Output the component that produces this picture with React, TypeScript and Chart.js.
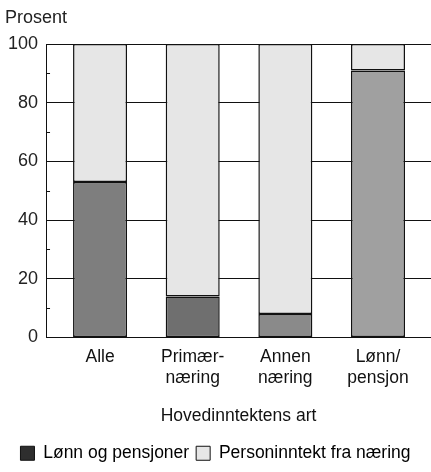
import React, { useEffect, useRef } from "react";
import { Chart, registerables } from "chart.js";

Chart.register(...registerables);

const categories: string[][] = [["Alle"], ["Primær-", "næring"], ["Annen", "næring"], ["Lønn/", "pensjon"]];
const lonnOgPensjoner: number[] = [53, 14, 8, 91];
const personinntekt: number[] = [47, 86, 92, 9];
const seriesNames: string[] = ["Lønn og pensjoner", "Personinntekt fra næring"];
const yTicks: number[] = [0, 20, 40, 60, 80, 100];
const minorTicks: number[] = [10, 30, 50, 70, 90];
const yUnit = "Prosent";

const FONT = "'Liberation Sans', Arial, sans-serif";

export default function App() {
  const ref = useRef<HTMLCanvasElement | null>(null);

  useEffect(() => {
    document.body.style.margin = "0";
    const canvas = ref.current;
    if (!canvas) return;

    const extrasPlugin = {
      id: "extras",
      afterDraw(chart: any) {
        const y = chart.scales.y;
        const ctx = chart.ctx;
        ctx.save();
        ctx.strokeStyle = "#111";
        ctx.lineWidth = 1;
        for (const v of minorTicks) {
          const py = Math.round(y.getPixelForValue(v)) + 0.5;
          ctx.beginPath();
          ctx.moveTo(chart.chartArea.left, py);
          ctx.lineTo(chart.chartArea.left + 4, py);
          ctx.stroke();
        }
        ctx.fillStyle = "#222";
        ctx.font = `18px ${FONT}`;
        ctx.textAlign = "left";
        ctx.textBaseline = "middle";
        ctx.fillText(yUnit, 5, 18);
        ctx.restore();
      },
    };

    const chart = new Chart(canvas, {
      type: "bar",
      data: {
        datasets: [
          {
            label: seriesNames[0],
            data: lonnOgPensjoner.map((v, i) => ({ x: i, y: v })),
            backgroundColor: ["#7e7e7e", "#6f6f6f", "#8a8a8a", "#a0a0a0"],
            borderColor: "#111",
            borderWidth: 1.5,
            borderSkipped: false,
            barPercentage: 0.583,
            categoryPercentage: 1,
          },
          {
            label: seriesNames[1],
            data: personinntekt.map((v, i) => ({ x: i, y: v })),
            backgroundColor: "#e6e6e6",
            borderColor: "#111",
            borderWidth: 1.5,
            borderSkipped: false,
            barPercentage: 0.583,
            categoryPercentage: 1,
          },
        ],
      },
      options: {
        animation: false,
        responsive: false,
        maintainAspectRatio: false,
        layout: { padding: { left: 0, right: 0, top: 44, bottom: 0 } },
        plugins: {
          title: { display: false },
          legend: {
            position: "bottom",
            labels: {
              color: "#111",
              font: { family: FONT, size: 17.5 },
              boxWidth: 14,
              boxHeight: 14,
              padding: 7,
              generateLabels: () => [
                { text: seriesNames[0], fillStyle: "#2e2e2e", strokeStyle: "#111", lineWidth: 1, datasetIndex: 0 },
                { text: seriesNames[1], fillStyle: "#e6e6e6", strokeStyle: "#111", lineWidth: 1, datasetIndex: 1 },
              ],
            },
          },
          tooltip: { enabled: false },
        },
        scales: {
          x: {
            type: "linear",
            stacked: true,
            offset: false,
            min: -0.583,
            max: 3.572,
            afterBuildTicks: (scale: any) => {
              scale.ticks = categories.map((_, i) => ({ value: i }));
            },
            ticks: {
              color: "#111",
              font: { family: FONT, size: 17.5, lineHeight: 1.2 },
              padding: 9,
              maxRotation: 0,
              autoSkip: false,
              callback: (v: any) => categories[Math.round(Number(v))] ?? "",
            },
            grid: { display: false, drawTicks: false, offset: false },
            border: { display: false },
            title: {
              display: true,
              text: "Hovedinntektens art",
              color: "#111",
              font: { family: FONT, size: 17.5 },
              padding: { top: 8, bottom: 11 },
            },
          },
          y: {
            stacked: true,
            min: 0,
            max: 100,
            afterBuildTicks: (scale: any) => {
              scale.ticks = yTicks.map((v) => ({ value: v }));
            },
            ticks: {
              color: "#222",
              font: { family: FONT, size: 18 },
              padding: 8,
            },
            grid: { color: "#111", lineWidth: 1, drawTicks: false },
            border: { display: true, color: "#111", width: 1 },
          },
        },
      },
      plugins: [extrasPlugin],
    } as any);

    return () => chart.destroy();
  }, []);

  return (
    <div style={{ width: 431, height: 472, background: "#fff" }}>
      <canvas ref={ref} width={431} height={472} style={{ display: "block" }} />
    </div>
  );
}
